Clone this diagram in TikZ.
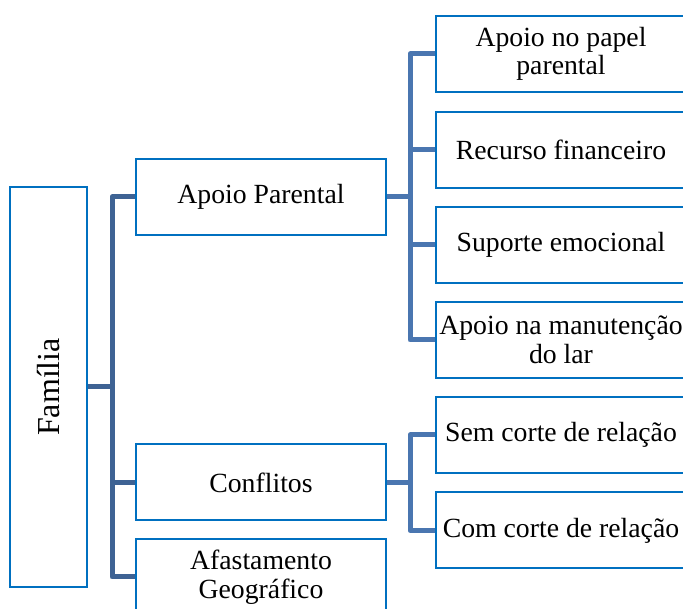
\documentclass[tikz,border=0pt]{standalone}
\usepackage{fontspec}
\setmainfont{Liberation Serif}
\usepackage{graphicx}
\usetikzlibrary{positioning}
\definecolor{boxblue}{RGB}{0,112,192}
\definecolor{linkdark}{RGB}{62,99,148}
\definecolor{linklight}{RGB}{74,118,176}

\begin{document}
\begin{tikzpicture}[x=0.75pt, y=-0.75pt,
  box/.style = {draw=boxblue, line width=1.5pt, fill=white, minimum width=187.5pt,
                minimum height=57pt, inner sep=0pt, align=center,
                font=\fontsize{20.8}{21.5}\selectfont},
  conn/.style = {draw=linkdark, line width=3.75pt, line join=round},
  conn2/.style = {draw=linklight, line width=3.75pt, line join=round}]
\useasboundingbox (0,0) rectangle (683,609);
\clip (0,0) rectangle (683,609);

\node[box, minimum width=57.75pt, minimum height=300pt,
      font=\fontsize{24}{26}\selectfont] (fam) at (48.5, 387) {\rotatebox{90}{Família}};

\node[box] (par) at (261, 197) {Apoio Parental};
\node[box] (conf) at (261, 482.5) {Conflitos};
\node[box] (afas) at (261, 577) {Afastamento\\Geográfico};

\node[box] (papel) at (561, 54) {Apoio no papel\\parental};
\node[box] (recur) at (561, 150) {Recurso financeiro};
\node[box] (emoc) at (561, 245) {Suporte emocional};
\node[box] (lar) at (561, 340) {Apoio na manutenção\\do lar};
\node[box] (sem) at (561, 435) {Sem corte de relação};
\node[box] (com) at (561, 530.5) {Com corte de relação};

\coordinate (j1) at (112, 387);
\coordinate (j2) at (410, 197);
\coordinate (j3) at (410, 482.5);

\draw[conn] (fam.east) -- (j1);
\draw[conn] (j1) |- (par.west);
\draw[conn] (j1) |- (conf.west);
\draw[conn] (j1) |- (afas.west);

\draw[conn2] (par.east) -- (j2);
\draw[conn2] (j2) |- (papel.west);
\draw[conn2] (j2) |- (recur.west);
\draw[conn2] (j2) |- (emoc.west);
\draw[conn2] (j2) |- (lar.west);

\draw[conn2] (conf.east) -- (j3);
\draw[conn2] (j3) |- (sem.west);
\draw[conn2] (j3) |- (com.west);
\end{tikzpicture}
\end{document}
